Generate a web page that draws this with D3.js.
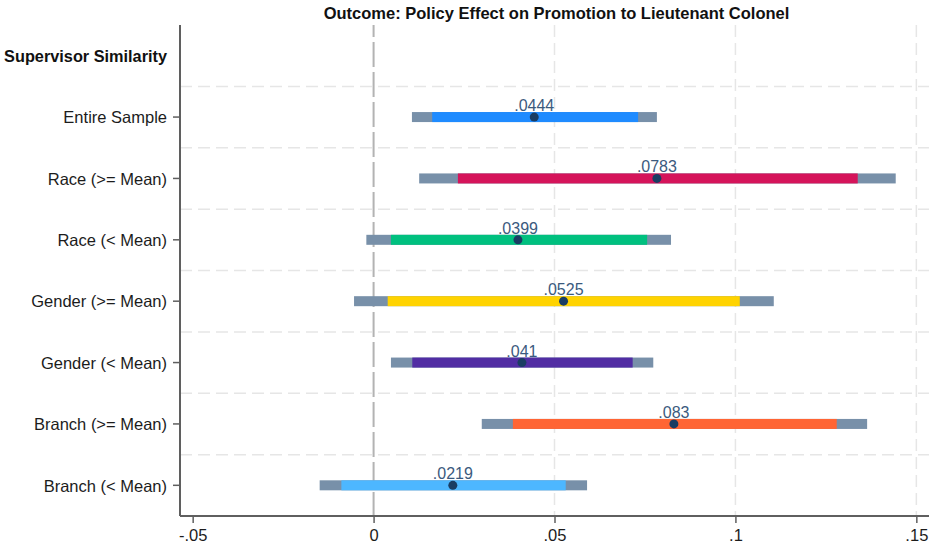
<!DOCTYPE html>
<html>
<head>
<meta charset="utf-8">
<script src="https://cdn.jsdelivr.net/npm/d3@7/dist/d3.min.js"></script>
<style>
  html, body { margin: 0; padding: 0; background: #fff; }
  svg { display: block; }
  text { font-family: "Liberation Sans", Arial, Helvetica, sans-serif; }
</style>
</head>
<body>
<svg id="chart" width="929" height="550"></svg>
<script>
// Subgroup estimates: point estimate with 90% (inner) and 95% (outer) intervals
const titleText = "Outcome: Policy Effect on Promotion to Lieutenant Colonel";
const groupHeader = "Supervisor Similarity";
const categories = [
  "Entire Sample",
  "Race (>= Mean)",
  "Race (< Mean)",
  "Gender (>= Mean)",
  "Gender (< Mean)",
  "Branch (>= Mean)",
  "Branch (< Mean)"
];
const estimates = [0.0444, 0.0783, 0.0399, 0.0525, 0.041, 0.083, 0.0219];
const ci90Low   = [0.0162, 0.0233, 0.0048, 0.0039, 0.0107, 0.0385, -0.0089];
const ci90High  = [0.0731, 0.1338, 0.0756, 0.1012, 0.0716, 0.1280, 0.0531];
const ci95Low   = [0.0106, 0.0126, -0.0020, -0.0054, 0.0048, 0.0299, -0.0149];
const ci95High  = [0.0783, 0.1443, 0.0822, 0.1106, 0.0773, 0.1364, 0.0590];
const barColors = ["#1f8bff", "#d5145a", "#00c07f", "#ffd300", "#512da3", "#ff6534", "#4db7ff"];
const xTicks = [-0.05, 0, 0.05, 0.1, 0.15];
const xTickLabels = ["-.05", "0", ".05", ".1", ".15"];
const xDomain = [-0.0535, 0.1535];

const rows = categories.map((c, i) => ({
  name: c,
  est: estimates[i],
  lo90: ci90Low[i], hi90: ci90High[i],
  lo95: ci95Low[i], hi95: ci95High[i],
  color: barColors[i]
}));

const svg = d3.select("#chart");
const plot = { left: 180, right: 929, top: 25, bottom: 516 };

const x = d3.scaleLinear().domain(xDomain).range([plot.left, plot.right]);
const y = d3.scaleBand()
  .domain([groupHeader, ...categories])
  .range([plot.top, plot.bottom])
  .paddingInner(0).paddingOuter(0);
const yc = d => y(d) + y.bandwidth() / 2;

// Horizontal dashed gridlines between rows
const gridColor = "#e6e6e6";
svg.append("g")
  .selectAll("line")
  .data(categories)
  .join("line")
  .attr("x1", plot.left).attr("x2", plot.right)
  .attr("y1", d => y(d)).attr("y2", d => y(d))
  .attr("stroke", gridColor)
  .attr("stroke-width", 1.5)
  .attr("stroke-dasharray", "12,6");

// Vertical dashed gridlines at the positive ticks
svg.append("g")
  .selectAll("line")
  .data(xTicks.filter(t => t > 0))
  .join("line")
  .attr("x1", d => x(d)).attr("x2", d => x(d))
  .attr("y1", plot.top).attr("y2", plot.bottom)
  .attr("stroke", gridColor)
  .attr("stroke-width", 1.5)
  .attr("stroke-dasharray", "12,6");

// Zero reference line
svg.append("line")
  .attr("x1", x(0)).attr("x2", x(0))
  .attr("y1", plot.top).attr("y2", plot.bottom)
  .attr("stroke", "#b3b3b3")
  .attr("stroke-width", 2)
  .attr("stroke-dasharray", "25,5")
  .attr("stroke-dashoffset", 13);

// Interval bars
const barH = 10;
const marks = svg.append("g");
marks.selectAll("rect.ci95")
  .data(rows)
  .join("rect")
  .attr("class", "ci95")
  .attr("x", d => x(d.lo95))
  .attr("width", d => x(d.hi95) - x(d.lo95))
  .attr("y", d => yc(d.name) - barH / 2)
  .attr("height", barH)
  .attr("fill", "#7890a9");

marks.selectAll("rect.ci90")
  .data(rows)
  .join("rect")
  .attr("class", "ci90")
  .attr("x", d => x(d.lo90))
  .attr("width", d => x(d.hi90) - x(d.lo90))
  .attr("y", d => yc(d.name) - barH / 2)
  .attr("height", barH)
  .attr("fill", d => d.color);

marks.selectAll("circle")
  .data(rows)
  .join("circle")
  .attr("cx", d => x(d.est))
  .attr("cy", d => yc(d.name))
  .attr("r", 4.5)
  .attr("fill", "#1a3d63");

// Estimate labels above the point
const fmtEst = v => String(v).replace(/^0\./, ".").replace(/^-0\./, "-.");
marks.selectAll("text")
  .data(rows)
  .join("text")
  .attr("x", d => x(d.est))
  .attr("y", d => yc(d.name) - 6)
  .attr("text-anchor", "middle")
  .attr("font-size", 16)
  .attr("fill", "#3b5a7e")
  .text(d => fmtEst(d.est));

// Left axis
const yAxis = d3.axisLeft(y)
  .tickValues(categories)
  .tickSize(7)
  .tickPadding(6);
const gy = svg.append("g")
  .attr("transform", `translate(${plot.left},0)`)
  .call(yAxis);
gy.select(".domain")
  .attr("d", `M0,${plot.top}V${plot.bottom}`)
  .attr("stroke", "#5f5f5f").attr("stroke-width", 2);
gy.selectAll(".tick line").attr("stroke", "#5f5f5f").attr("stroke-width", 1.5);
gy.selectAll(".tick text")
  .attr("font-size", 16.5)
  .attr("dy", "0.38em")
  .attr("fill", "#1c1c1c")
  .attr("font-family", "Liberation Sans, Arial, sans-serif");

// Group header
svg.append("text")
  .attr("x", plot.left - 13)
  .attr("y", yc(groupHeader))
  .attr("dy", "0.38em")
  .attr("text-anchor", "end")
  .attr("font-size", 16.3)
  .attr("font-weight", "bold")
  .attr("fill", "#111")
  .text(groupHeader);

// Bottom axis
const xAxis = d3.axisBottom(x)
  .tickValues(xTicks)
  .tickFormat((d, i) => xTickLabels[i])
  .tickSize(7)
  .tickPadding(6);
const gx = svg.append("g")
  .attr("transform", `translate(0,${plot.bottom})`)
  .call(xAxis);
gx.select(".domain")
  .attr("d", `M${plot.left},0H${plot.right}`)
  .attr("stroke", "#5f5f5f").attr("stroke-width", 2);
gx.selectAll(".tick line").attr("stroke", "#5f5f5f").attr("stroke-width", 1.5);
gx.selectAll(".tick text")
  .attr("font-size", 16.5)
  .attr("fill", "#1c1c1c")
  .attr("font-family", "Liberation Sans, Arial, sans-serif");

// Title
svg.append("text")
  .attr("x", (plot.left + plot.right) / 2 + 2)
  .attr("y", 19)
  .attr("text-anchor", "middle")
  .attr("font-size", 16.5)
  .attr("font-weight", "bold")
  .attr("fill", "#111")
  .text(titleText);
</script>
</body>
</html>
